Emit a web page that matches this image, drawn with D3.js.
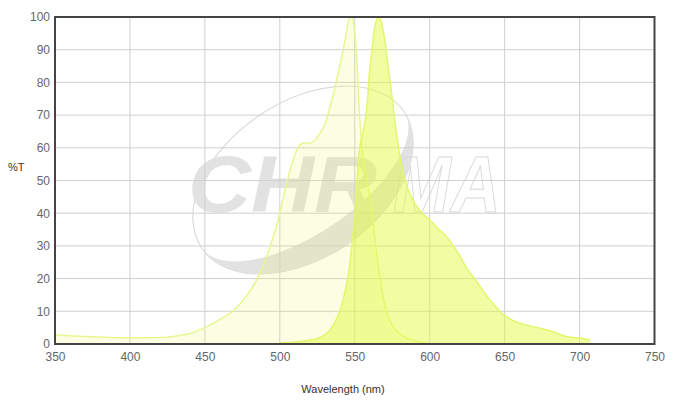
<!DOCTYPE html>
<meta charset="utf-8">
<body style="margin:0;background:#fff">
<style>
  .tick text { font-family: "Liberation Sans", Arial, sans-serif; font-size: 12px; fill: #666; }
  .axis-label { font-family: "Liberation Sans", Arial, sans-serif; font-size: 11px; fill: #333; }
  .grid line { stroke: #d0d0d0; stroke-width: 1; }
</style>
<svg width="680" height="409"></svg>
<script src="https://d3js.org/d3.v7.min.js"></script>
<script>

// excitation spectrum (nm, %T)
var exWl  = [350, 360, 375, 400, 420, 430, 440, 450, 460, 467, 475, 485, 493, 500, 504, 508, 512, 516, 520, 523, 526, 529, 532, 535, 538, 541, 544, 546, 548, 549.5, 551, 553, 555, 558, 561, 564, 567, 571, 576, 582, 590, 598];
var exVal = [2.8, 2.5, 2.2, 1.9, 2.0, 2.4, 3.2, 5.0, 7.5, 9.5, 13, 20, 29, 40, 48, 55, 60, 61.5, 61.5, 62, 64, 66, 70, 75, 81, 87, 94, 99, 100, 97, 90, 72, 59, 50, 42, 30, 20, 10, 5, 2.5, 1, 0.3];

// emission spectrum (nm, %T)
var emWl  = [500, 510, 520, 527, 532, 536, 540, 543, 546, 548, 550, 553, 556, 558, 560, 561.5, 563, 566, 568, 570, 572, 575, 578, 581, 585, 590, 595, 600, 605, 610, 615, 620, 625, 630, 636, 642, 648, 655, 663, 673, 682, 691, 700, 707];
var emVal = [0.3, 0.6, 1.2, 2, 3.5, 6, 10, 15, 22, 30, 40, 59, 66, 72, 84, 90, 96, 100, 98, 93, 86, 75, 64, 55, 48, 43, 40, 38, 35.5, 33.5, 30.5, 27, 23, 20, 16, 12.5, 9.5, 7.3, 6, 4.9, 3.8, 2.3, 1.8, 1.2];

var xTicks = [350, 400, 450, 500, 550, 600, 650, 700, 750];
var yTicks = [0, 10, 20, 30, 40, 50, 60, 70, 80, 90, 100];

var svg = d3.select("svg");
var mLeft = 55, mRight = 654.5, mTop = 17, mBottom = 344;

var x = d3.scaleLinear().domain([350, 750]).range([mLeft, mRight]);
var y = d3.scaleLinear().domain([0, 100]).range([mBottom, mTop]);

// watermark
var wm = svg.append("g");
var ring = wm.append("g").attr("transform", "translate(303,180) rotate(-34)");
ring.append("ellipse")
    .attr("rx", 122).attr("ry", 78)
    .attr("fill", "none").attr("stroke", "#dcdcdc").attr("stroke-width", 1.2);
ring.append("path")
    .attr("d", "M-122,0 A122,78 0 0 0 122,0 A118,52 0 0 1 -122,0 Z")
    .attr("fill", "#e2e2e2");
wm.append("text")
    .attr("x", 188).attr("y", 212)
    .attr("textLength", 189).attr("lengthAdjust", "spacingAndGlyphs")
    .style("font-family", "Liberation Sans, Arial, sans-serif")
    .style("font-weight", "bold").style("font-style", "italic")
    .style("font-size", "80px")
    .attr("fill", "#e2e2e2")
    .text("CHR");
wm.append("text")
    .attr("x", 393).attr("y", 212)
    .attr("textLength", 108).attr("lengthAdjust", "spacingAndGlyphs")
    .style("font-family", "Liberation Sans, Arial, sans-serif")
    .style("font-weight", "bold").style("font-style", "italic")
    .style("font-size", "80px")
    .attr("fill", "none").attr("stroke", "#d8d8d8").attr("stroke-width", 1)
    .text("MA");

// grid
svg.append("g").attr("class", "grid")
    .selectAll("line").data(xTicks).enter().append("line")
    .attr("x1", d => x(d)).attr("x2", d => x(d))
    .attr("y1", mTop).attr("y2", mBottom);
svg.append("g").attr("class", "grid")
    .selectAll("line").data(yTicks).enter().append("line")
    .attr("x1", mLeft).attr("x2", mRight)
    .attr("y1", d => y(d)).attr("y2", d => y(d));

var ex = exWl.map((w, i) => [w, exVal[i]]);
var em = emWl.map((w, i) => [w, emVal[i]]);

var area = d3.area().curve(d3.curveMonotoneX)
    .x(d => x(d[0])).y0(y(0)).y1(d => y(d[1]));
var line = d3.line().curve(d3.curveMonotoneX)
    .x(d => x(d[0])).y(d => y(d[1]));

svg.append("path").datum(ex).attr("d", area).attr("fill", "rgba(225,250,60,0.14)");
svg.append("path").datum(ex).attr("d", line)
    .attr("fill", "none").attr("stroke", "#e8f692").attr("stroke-width", 1.5);
svg.append("path").datum(em).attr("d", area).attr("fill", "rgba(225,250,60,0.47)");
svg.append("path").datum(em).attr("d", line)
    .attr("fill", "none").attr("stroke", "#e3f66c").attr("stroke-width", 1.5);

// axes
svg.append("g").attr("transform", "translate(0," + mBottom + ")")
    .call(d3.axisBottom(x).tickValues(xTicks).tickSize(0).tickPadding(8))
    .call(g => g.select(".domain").remove());
svg.append("g").attr("transform", "translate(" + mLeft + ",0)")
    .call(d3.axisLeft(y).tickValues(yTicks).tickSize(0).tickPadding(5))
    .call(g => g.select(".domain").remove());

// frame
svg.append("rect")
    .attr("x", mLeft).attr("y", mTop)
    .attr("width", mRight - mLeft).attr("height", mBottom - mTop)
    .attr("fill", "none").attr("stroke", "#444").attr("stroke-width", 2);

svg.append("text").attr("class", "axis-label")
    .attr("x", 8).attr("y", 171).text("%T");
svg.append("text").attr("class", "axis-label")
    .attr("x", 343).attr("y", 393).attr("text-anchor", "middle")
    .text("Wavelength (nm)");
</script>
</body>
